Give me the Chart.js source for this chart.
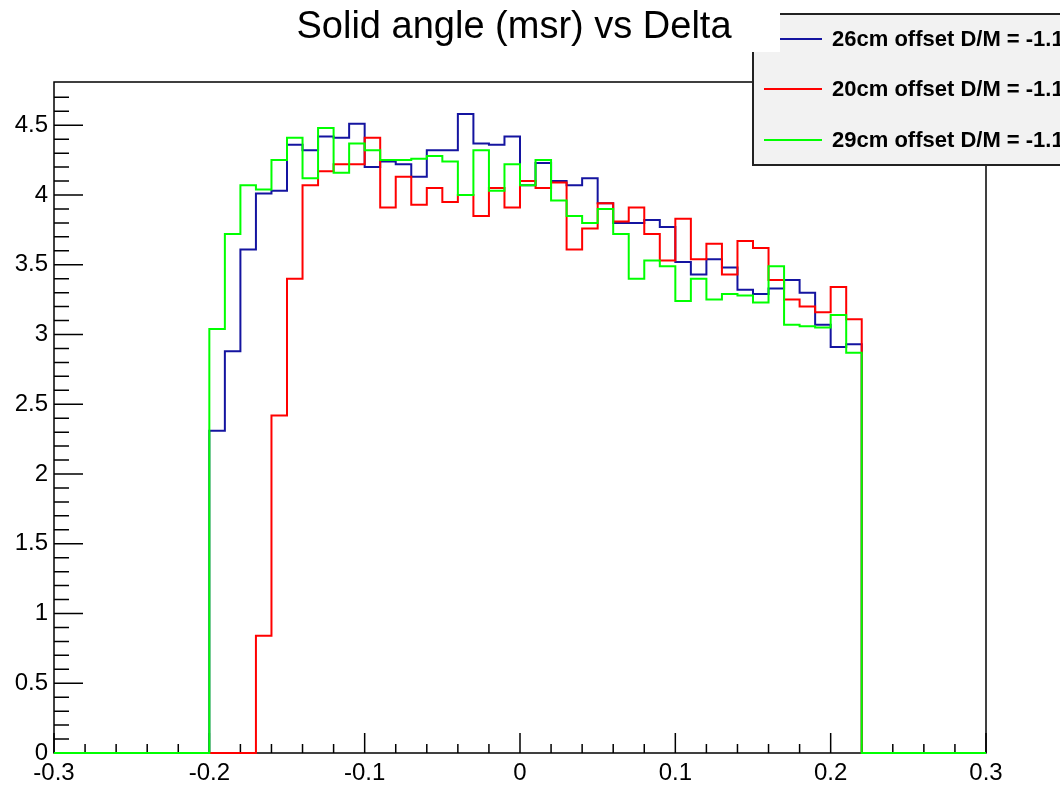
<!DOCTYPE html>
<html>
<head>
<meta charset="utf-8">
<title>Solid angle (msr) vs Delta</title>
<script src="https://cdn.jsdelivr.net/npm/chart.js@4.4.1/dist/chart.umd.min.js"></script>
<style>
  html, body { margin: 0; padding: 0; background: #fff; }
  canvas { display: block; }
</style>
</head>
<body>
<canvas id="solidAngle" width="1060" height="787"></canvas>
<script>
// Histogram bins: width 0.01, first filled bin starts at -0.2
const binStart = -0.2;
const binWidth = 0.01;
const xRange = [-0.3, 0.3];

const seriesNames = [
  "26cm offset D/M = -1.1",
  "20cm offset D/M = -1.1",
  "29cm offset D/M = -1.1"
];

// solid angle (msr) per delta bin, -0.20 .. 0.22
const offset26 = [2.31, 2.88, 3.61, 4.01, 4.03, 4.36, 4.32, 4.42, 4.41, 4.51,
  4.20, 4.24, 4.22, 4.13, 4.32, 4.32, 4.58, 4.37, 4.36, 4.42,
  4.07, 4.23, 4.10, 4.07, 4.12, 3.94, 3.80, 3.80, 3.82, 3.77,
  3.52, 3.43, 3.54, 3.48, 3.32, 3.29, 3.33, 3.39, 3.30, 3.07,
  2.91, 2.93];
const offset20 = [0, 0, 0, 0.84, 2.42, 3.40, 4.07, 4.17, 4.22, 4.22,
  4.41, 3.91, 4.13, 3.93, 4.05, 3.95, 4.00, 3.85, 4.05, 3.91,
  4.10, 4.05, 4.09, 3.61, 3.76, 3.94, 3.81, 3.91, 3.72, 3.53,
  3.83, 3.54, 3.65, 3.43, 3.67, 3.62, 3.39, 3.25, 3.20, 3.16,
  3.34, 3.11];
const offset29 = [3.04, 3.72, 4.07, 4.04, 4.25, 4.41, 4.12, 4.48, 4.16, 4.37,
  4.32, 4.25, 4.25, 4.26, 4.28, 4.24, 4.00, 4.32, 4.03, 4.22,
  4.07, 4.25, 3.96, 3.85, 3.80, 3.90, 3.72, 3.40, 3.53, 3.49,
  3.24, 3.40, 3.25, 3.29, 3.28, 3.23, 3.49, 3.07, 3.06, 3.05,
  3.14, 2.87];

const colors = ["#1414a0", "#ff0000", "#00ff00"];
const fontFamily = "'Liberation Sans', Arial, Helvetica, sans-serif";

// turn bin contents into step points; each point is a bin's right edge
function histPoints(values) {
  const pts = [{ x: xRange[0], y: 0 }, { x: binStart, y: 0 }];
  values.forEach((v, i) => pts.push({ x: binStart + (i + 1) * binWidth, y: v }));
  pts.push({ x: xRange[1], y: 0 });
  return pts;
}

// ROOT style frame with inward ticks, legend and title pave
const rootDecor = {
  id: 'rootDecor',
  beforeDatasetsDraw(chart) {
    const { ctx, chartArea: a, scales: { x, y } } = chart;
    ctx.save();
    ctx.strokeStyle = '#000';
    ctx.lineWidth = 1.5;
    ctx.strokeRect(a.left, a.top, a.right - a.left, a.bottom - a.top);
    ctx.beginPath();
    for (let k = 0; k <= 48; k++) {
      const py = y.getPixelForValue(k / 10);
      if (py < a.top + 2) continue;
      const len = k % 5 === 0 ? 29 : 15;
      ctx.moveTo(a.left, py);
      ctx.lineTo(a.left + len, py);
    }
    for (let k = -15; k <= 15; k++) {
      const px = x.getPixelForValue(k * 0.02);
      const len = k % 5 === 0 ? 20 : 9;
      ctx.moveTo(px, a.bottom);
      ctx.lineTo(px, a.bottom - len);
    }
    ctx.stroke();
    ctx.restore();
  },
  afterDraw(chart) {
    const { ctx } = chart;
    ctx.save();
    // legend
    ctx.fillStyle = '#f2f2f2';
    ctx.fillRect(753, 14, 320, 151);
    ctx.strokeStyle = '#222';
    ctx.lineWidth = 2;
    ctx.strokeRect(753, 14, 320, 151);
    const rowY = [39, 89, 140];
    ctx.font = 'bold 22px ' + fontFamily;
    ctx.textBaseline = 'middle';
    ctx.textAlign = 'left';
    seriesNames.forEach((name, i) => {
      ctx.strokeStyle = colors[i];
      ctx.lineWidth = 2;
      ctx.beginPath();
      ctx.moveTo(764, rowY[i]);
      ctx.lineTo(822, rowY[i]);
      ctx.stroke();
      ctx.fillStyle = '#000';
      ctx.fillText(name, 832, rowY[i] + 1);
    });
    // title pave
    ctx.fillStyle = '#fff';
    ctx.fillRect(244, 0, 536, 52);
    ctx.fillStyle = '#000';
    ctx.font = '38px ' + fontFamily;
    ctx.textAlign = 'center';
    ctx.fillText('Solid angle (msr) vs Delta', 514, 28);
    ctx.restore();
  }
};

const ctx = document.getElementById('solidAngle').getContext('2d');
const datasets = [offset26, offset20, offset29].map((vals, i) => ({
  label: seriesNames[i],
  data: histPoints(vals),
  borderColor: colors[i],
  borderWidth: 2,
  stepped: 'after',
  pointRadius: 0,
  fill: false,
  clip: false,
  order: 3 - i
}));

new Chart(ctx, {
  type: 'line',
  data: { datasets: datasets },
  options: {
    responsive: false,
    animation: false,
    devicePixelRatio: 1,
    layout: { padding: { top: 82, right: 74, left: 0, bottom: 0 } },
    plugins: {
      legend: { display: false },
      tooltip: { enabled: false },
      title: { display: false }
    },
    scales: {
      x: {
        type: 'linear',
        min: xRange[0],
        max: xRange[1],
        grid: { display: false, drawTicks: false },
        border: { display: false },
        ticks: {
          stepSize: 0.1,
          includeBounds: false,
          maxRotation: 0,
          padding: 6,
          color: '#000',
          font: { size: 24, family: fontFamily }
        },
        afterFit: s => { s.height = 34; }
      },
      y: {
        min: 0,
        max: 4.81,
        grid: { display: false, drawTicks: false },
        border: { display: false },
        ticks: {
          stepSize: 0.5,
          includeBounds: false,
          padding: 6,
          color: '#000',
          font: { size: 24, family: fontFamily },
          callback: v => String(+v.toFixed(2))
        },
        afterFit: s => { s.width = 54; }
      }
    }
  },
  plugins: [rootDecor]
});
</script>
</body>
</html>
